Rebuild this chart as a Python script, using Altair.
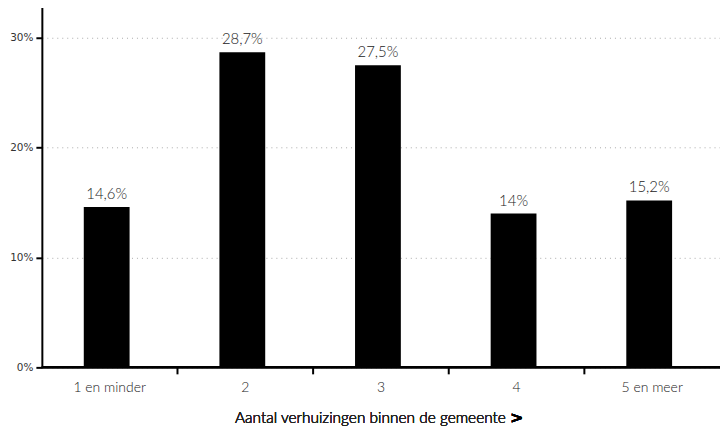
import altair as alt
import pandas as pd

categories = ["1 en minder", "2", "3", "4", "5 en meer"]
values = [14.6, 28.7, 27.5, 14.0, 15.2]
labels = ["14,6%", "28,7%", "27,5%", "14%", "15,2%"]
y_ticks = [0, 10, 20, 30]

df = pd.DataFrame({"cat": categories, "val": values, "lab": labels})
ticks_df = pd.DataFrame({"cat": categories[1:]})
FONT = "Lato"

x_enc = alt.X("cat:N", sort=categories,
              scale=alt.Scale(paddingInner=0, paddingOuter=0),
              axis=alt.Axis(title=None, labelAngle=0, ticks=False, domain=False,
                            labelFont=FONT, labelFontSize=14, labelFontWeight=300,
                            labelColor="#222", labelPadding=13, grid=False))
y_scale = alt.Scale(domain=[0, 33], nice=False)
y_axis = alt.Axis(title=None, values=y_ticks, labelExpr="datum.value + '%'",
                  labelFont="DejaVu Sans", labelFontSize=10.5, labelColor="#333",
                  ticks=True, tickColor="black", tickSize=6, tickWidth=2,
                  domainColor="black", domainWidth=2,
                  grid=True, gridColor="#aaa", gridDash=[1, 4], gridWidth=1,
                  labelPadding=3)

bars = alt.Chart(df).mark_bar(color="black", size=46, xOffset=-3).encode(
    x=x_enc,
    y=alt.Y("val:Q", scale=y_scale, axis=y_axis),
)

text = alt.Chart(df).mark_text(dy=-13, dx=-3, font=FONT, fontSize=15, fontWeight=300,
                               color="#222").encode(
    x=alt.X("cat:N", sort=categories),
    y=alt.Y("val:Q", scale=y_scale),
    text="lab:N",
)

xdomain = alt.Chart(df).mark_rule(color="black", strokeWidth=2).encode(
    x=alt.value(0), x2=alt.value(681), y=alt.value(364)
)

xticks = alt.Chart(ticks_df).mark_rule(color="black", strokeWidth=2).encode(
    x=alt.X("cat:N", sort=categories, bandPosition=0),
    y=alt.value(364), y2=alt.value(371),
)

title = alt.Chart(df).mark_text(font=FONT, fontSize=15.5, fontWeight=300, color="#222",
                                align="right").encode(
    x=alt.value(466), y=alt.value(415), text=alt.value("Aantal verhuizingen binnen de gemeente")
)
arrow = alt.Chart(df).mark_text(font="DejaVu Sans", fontSize=16, fontWeight="bold",
                                color="black", align="left").encode(
    x=alt.value(470), y=alt.value(415), text=alt.value(">")
)

chart = alt.layer(bars, text, xdomain, xticks, title, arrow).properties(
    width=681, height=364,
    autosize=alt.AutoSizeParams(type="none"),
    padding={"left": 34, "top": -4, "right": 0, "bottom": 58},
).configure_view(stroke=None)

chart.save("out.html", embed_options={"renderer": "svg", "actions": False})
